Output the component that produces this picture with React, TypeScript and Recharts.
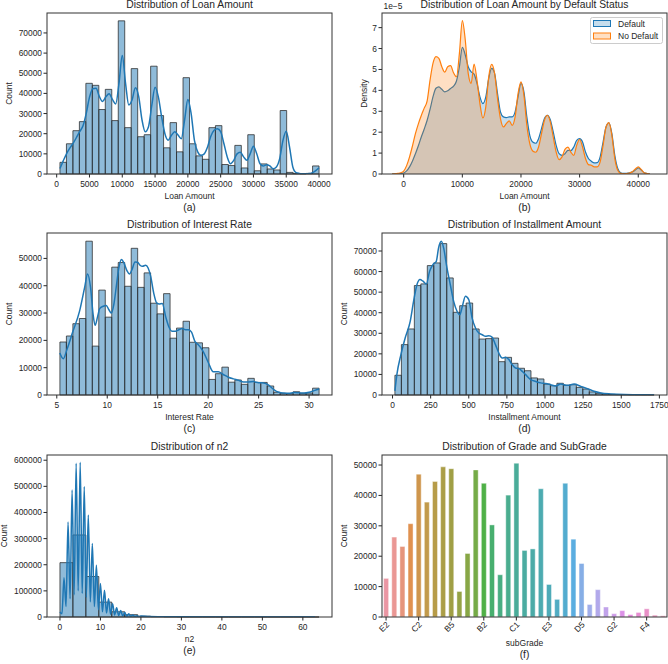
import React from 'react';
import { ComposedChart, BarChart, Bar, Line, Area, XAxis, YAxis, ReferenceArea, Cell } from 'recharts';

// ---------- data ----------

// (a) loan amount histogram, 40 bins
const loanBinStart = 500;
const loanBinWidth = 987.5;
const loanCounts = [
  5800, 15000, 21500, 26000, 45000, 44000, 32000, 42000, 26500, 76000,
  23000, 52300, 18500, 19500, 53500, 29000, 13000, 25500, 11000, 47800,
  15000, 9000, 7300, 23000, 24000, 4700, 4200, 14200, 3000, 19500,
  1600, 5000, 2500, 2000, 31500, 800, 200, 100, 300, 4000,
];
// kde sampled every 500 from 500
const loanKdeStart = 500;
const loanKdeStep = 500;
const loanKde = [
  2700, 6500, 10000, 12800, 15200, 18000, 21000, 23800, 30000, 38000,
  42300, 42500, 38500, 36000, 38300, 39800, 37000, 34800, 45000, 58800,
  45000, 34200, 36800, 42800, 38500, 27000, 21000, 23500, 34000, 43000,
  38300, 28400, 20000, 16800, 19200, 21000, 19300, 17500, 26700, 37000,
  30000, 16700, 11000, 9300, 10000, 13400, 18700, 21700, 22500, 21000,
  15000, 8500, 5100, 6800, 10000, 10800, 8500, 6800, 10000, 13800,
  10000, 5100, 4000, 4600, 4000, 2600, 3500, 7600, 16700, 21200,
  13400, 3500, 700, 300, 150, 100, 200, 700, 1700, 3100,
];
const loanTicks = [0, 5000, 10000, 15000, 20000, 25000, 30000, 35000, 40000];
const countTicks70k = [0, 10000, 20000, 30000, 40000, 50000, 60000, 70000];

// (b) density by default status (units of 1e-5), sampled every 500 from -2000
const densityStart = -2000;
const densityStep = 500;
const defaultDensity = [
  0, 0.005, 0.01, 0.02, 0.05, 0.15, 0.34, 0.62, 0.97, 1.35,
  1.77, 2.15, 2.57, 3.1, 3.7, 4.1, 4.17, 4.05, 3.93, 3.98,
  4.09, 4.2, 4.45, 5.13, 6.06, 5.69, 5.13, 4.89, 4.78, 4.33,
  3.69, 3.37, 3.69, 4.57, 5.05, 4.81, 3.85, 2.97, 2.73, 2.7,
  2.73, 2.73, 2.97, 3.69, 4.33, 3.93, 2.73, 1.85, 1.53, 1.47,
  1.69, 2.17, 2.65, 2.81, 2.6, 2.01, 1.37, 0.97, 0.89, 0.97,
  1.13, 1.12, 1.29, 1.61, 1.69, 1.53, 1.05, 0.74, 0.61, 0.53,
  0.54, 0.82, 1.53, 2.25, 2.45, 1.93, 0.89, 0.26, 0.06, 0.03,
  0.03, 0.05, 0.1, 0.19, 0.29, 0.19, 0.06, 0.02, 0,
];
const noDefaultDensity = [
  0, 0.01, 0.03, 0.06, 0.14, 0.4, 0.82, 1.35, 1.93, 2.4,
  2.8, 3.15, 3.5, 4.5, 5.3, 5.61, 5.53, 5.13, 4.87, 5.13,
  5.18, 4.84, 4.65, 5.77, 7.34, 6.41, 4.81, 4.33, 5.26, 4.49,
  3.37, 2.68, 3.21, 4.65, 5.24, 4.81, 3.61, 2.65, 2.25, 2.41,
  2.54, 2.33, 2.73, 3.85, 4.41, 3.77, 2.33, 1.45, 1.1, 1.04,
  1.29, 1.93, 2.57, 2.81, 2.49, 1.77, 1.05, 0.69, 0.82, 1.18,
  1.29, 1.05, 0.89, 1.37, 1.65, 1.29, 0.74, 0.45, 0.42, 0.34,
  0.34, 0.58, 1.37, 2.25, 2.46, 1.85, 0.74, 0.18, 0.03, 0.01,
  0.02, 0.05, 0.11, 0.24, 0.34, 0.22, 0.06, 0.02, 0,
];
const densityXTicks = [0, 10000, 20000, 30000, 40000];
const densityYTicks = [0, 1, 2, 3, 4, 5, 6, 7];

// (c) interest rate
const rateBinStart = 5.31;
const rateBinWidth = 0.642;
const rateCounts = [
  19400, 21600, 26100, 28000, 56300, 17900, 38400, 28500, 46800, 48500,
  39800, 53700, 39400, 44700, 33600, 29700, 37100, 20800, 24500, 27000,
  19300, 19100, 17300, 5700, 7800, 10200, 4700, 5500, 3900, 6100,
  4600, 4600, 3300, 1000, 600, 500, 1200, 600, 700, 2500,
];
const rateKdeX = [
  5.3, 5.65, 6.0, 6.6, 7.25, 7.75, 8.05, 8.35, 8.6, 8.8,
  9.05, 9.25, 9.6, 9.9, 10.15, 10.4, 10.65, 10.9, 11.15, 11.4,
  11.65, 11.95, 12.2, 12.45, 12.75, 13.0, 13.25, 13.5, 13.8, 14.05,
  14.3, 14.6, 14.9, 15.15, 15.45, 15.8, 16.1, 16.45, 16.75, 17.1,
  17.4, 17.75, 18.05, 18.35, 18.7, 19.0, 19.5, 20.0, 20.5, 21.0,
  21.5, 22.0, 22.5, 23.0, 23.5, 24.0, 24.5, 25.0, 25.5, 26.0,
  26.5, 27.0, 27.5, 28.0, 28.5, 29.0, 29.5, 30.0, 30.5, 31.0,
];
const rateKdeY = [
  15400, 13300, 16600, 23300, 30600, 39200, 44300, 39200, 29400, 25500,
  28800, 31600, 32500, 32800, 31300, 30000, 33100, 39800, 46500, 49600,
  48400, 45500, 44300, 45900, 48700, 48600, 47500, 47100, 47500, 46500,
  43500, 37400, 33700, 33300, 33500, 28500, 25000, 23300, 23300, 23900,
  24300, 23900, 23900, 23000, 19500, 18500, 16000, 12000, 8500, 8500,
  7500, 6500, 5900, 5400, 4800, 4800, 4900, 4500, 4400, 3600,
  2000, 1000, 700, 600, 900, 800, 700, 1000, 1600, 2200,
];
const rateXTicks = [5, 10, 15, 20, 25, 30];
const countTicks50k = [0, 10000, 20000, 30000, 40000, 50000];

// (d) installment amount
const installBinStart = 15.69;
const installBinWidth = 42.49;
const installCounts = [
  9600, 24500, 32100, 53200, 54000, 62900, 64200, 73600, 56900, 40200,
  43400, 44700, 32100, 27200, 27400, 27700, 16200, 18300, 15400, 13000,
  11800, 8300, 7800, 5300, 4500, 5700, 4700, 5000, 3700, 2900,
  1500, 800, 500, 300, 200, 150, 100, 80, 60, 50,
];
const installKdeX = [
  15.7, 28.5, 55, 83, 116, 138, 160, 180, 200, 222,
  243, 265, 287, 302, 320, 335, 357, 379, 401, 423,
  441, 458, 478, 500, 522, 544, 566, 588, 610, 632,
  654, 675, 697, 719, 741, 763, 785, 807, 829, 851,
  873, 906, 939, 972, 1005, 1037, 1070, 1103, 1147, 1191,
  1235, 1278, 1322, 1366, 1432, 1520, 1629, 1715,
];
const installKdeY = [
  2000, 9900, 19600, 27700, 35800, 45500, 53600, 56100, 55300, 54000,
  60100, 63400, 65000, 71500, 74700, 71500, 61800, 53600, 45500, 40700,
  39000, 43100, 48000, 46400, 37400, 32600, 30100, 29300, 28500, 28800,
  28000, 24500, 20400, 18000, 18300, 17200, 14700, 13100, 12800, 11500,
  9900, 7500, 6600, 5900, 5600, 5000, 4400, 5300, 4700, 5300,
  4200, 3100, 1800, 1000, 500, 200, 100, 50,
];
const installXTicks = [0, 250, 500, 750, 1000, 1250, 1500, 1750];

// (e) n2
const n2BinStart = 0;
const n2BinWidth = 3.2;
const n2Counts = [
  208000, 314000, 155000, 57000, 20000, 9000, 3000, 1500, 700, 300,
  150, 80, 50, 30, 20, 10, 8, 5, 3, 2,
];
const n2KdeX = [
  0, 0.5, 1, 1.5, 2, 2.5, 3, 3.5, 4, 4.5,
  5, 5.5, 6, 6.5, 7, 7.5, 8, 8.5, 9, 9.5,
  10, 10.5, 11, 11.5, 12, 12.5, 13, 13.5, 14, 14.5,
  15, 15.5, 16, 16.5, 17, 17.5, 18, 18.5, 19, 19.5,
  20, 22, 25, 30, 40, 50, 63,
];
const n2KdeY = [
  19000, 12000, 150000, 40000, 364000, 70000, 486000, 85000, 588000, 100000,
  592000, 90000, 499000, 75000, 390000, 58000, 281000, 40000, 198000, 28000,
  128000, 20000, 102000, 15000, 70000, 11000, 51000, 8000, 35000, 6000,
  25000, 4000, 17000, 3000, 12000, 2000, 8000, 1500, 5000, 1000,
  4000, 2000, 1200, 600, 200, 100, 50,
];
const n2XTicks = [0, 10, 20, 30, 40, 50, 60];
const n2YTicks = [0, 100000, 200000, 300000, 400000, 500000, 600000];

// (f) sub grades, in order of appearance
const subGrades = [
  'E2', 'D2', 'D3', 'A4', 'C2', 'A5', 'C3', 'B4', 'B5', 'E5',
  'D4', 'B3', 'B2', 'D1', 'E1', 'C5', 'C1', 'A2', 'B1', 'A3',
  'E3', 'F1', 'C4', 'A1', 'D5', 'F2', 'E4', 'F3', 'G2', 'F5',
  'G3', 'G1', 'F4', 'G4', 'G5',
];
const subGradeCounts = [
  12700, 26300, 23200, 30700, 47000, 37800, 44600, 49400, 48800, 8400,
  20900, 48400, 44000, 30300, 13900, 40100, 50600, 21900, 22400, 42200,
  10700, 5800, 44000, 25600, 17600, 4100, 9000, 3300, 1100, 2100,
  800, 1500, 2700, 600, 400,
];

// ---------- styling ----------

const FONT = '"Liberation Sans", Arial, Helvetica, sans-serif';
const INK = '#262626';
const BLUE = '#1f77b4';
const ORANGE = '#ff7f0e';
const AXIS_W = 47;
const TICK = { fontSize: 8.4, fill: INK };

type Box = { left: number; top: number; right: number; bottom: number };
const boxA: Box = { left: 47, top: 13, right: 332, bottom: 174 };
const boxB: Box = { left: 382, top: 13, right: 667, bottom: 174 };
const boxC: Box = { left: 47, top: 233, right: 332, bottom: 395 };
const boxD: Box = { left: 382, top: 233, right: 667, bottom: 395 };
const boxE: Box = { left: 47, top: 455, right: 332, bottom: 617 };
const boxF: Box = { left: 382, top: 455, right: 667, bottom: 617 };

// seaborn husl palette (l=.7) desaturated to .75, as countplot does
const HM = [
  [3.2406, -1.5372, -0.4986],
  [-0.9689, 1.8758, 0.0415],
  [0.0557, -0.204, 1.057],
];
function maxChroma(L: number, H: number) {
  const hr = (H * Math.PI) / 180;
  const sinH = Math.sin(hr);
  const cosH = Math.cos(hr);
  const sub1 = Math.pow(L + 16, 3) / 1560896;
  const sub2 = sub1 > 0.008856 ? sub1 : L / 903.3;
  let res = Infinity;
  for (const [m1, m2, m3] of HM) {
    const top = (0.99915 * m1 + 1.05122 * m2 + 1.1446 * m3) * sub2;
    const rb = 0.8633 * m3 - 0.17266 * m2;
    const lb = 0.12949 * m3 - 0.38848 * m1;
    const bottom = (rb * sinH + lb * cosH) * sub2;
    for (const t of [0, 1]) {
      const c = (L * (top - 1.05122 * t)) / (bottom + 0.17266 * sinH * t);
      if (c > 0 && c < res) res = c;
    }
  }
  return res;
}
function huslToRgb(H: number, S: number, L: number) {
  const C = (maxChroma(L, H) / 100) * S;
  const hr = (H * Math.PI) / 180;
  const U = Math.cos(hr) * C;
  const V = Math.sin(hr) * C;
  const t = (L + 16) / 116;
  const Y = t * t * t > 0.008856 ? t * t * t : L / 903.3;
  const vu = U / (13 * L) + 0.19784;
  const vv = V / (13 * L) + 0.46834;
  const X = -(9 * Y * vu) / ((vu - 4) * vv - vu * vv);
  const Z = (9 * Y - 15 * vv * Y - vv * X) / (3 * vv);
  return HM.map(([a, b, c]) => {
    const lin = a * X + b * Y + c * Z;
    const v = lin <= 0.0031308 ? 12.92 * lin : 1.055 * Math.pow(lin, 1 / 2.4) - 0.055;
    return Math.min(1, Math.max(0, v));
  });
}
function desaturate(rgb: number[], prop: number) {
  const [r, g, b] = rgb;
  const mx = Math.max(r, g, b);
  const mn = Math.min(r, g, b);
  const l = (mx + mn) / 2;
  if (mx === mn) return rgb;
  const d = mx - mn;
  const s = (l <= 0.5 ? d / (mx + mn) : d / (2 - mx - mn)) * prop;
  const rc = (mx - r) / d;
  const gc = (mx - g) / d;
  const bc = (mx - b) / d;
  let h = r === mx ? bc - gc : g === mx ? 2 + rc - bc : 4 + gc - rc;
  h = (((h / 6) % 1) + 1) % 1;
  const m2 = l <= 0.5 ? l * (1 + s) : l + s - l * s;
  const m1 = 2 * l - m2;
  const ch = (hh: number) => {
    hh = ((hh % 1) + 1) % 1;
    if (hh < 1 / 6) return m1 + (m2 - m1) * hh * 6;
    if (hh < 0.5) return m2;
    if (hh < 2 / 3) return m1 + (m2 - m1) * (2 / 3 - hh) * 6;
    return m1;
  };
  return [ch(h + 1 / 3), ch(h), ch(h - 1 / 3)];
}
const toHex = (rgb: number[]) =>
  '#' + rgb.map((v) => Math.round(v * 255).toString(16).padStart(2, '0')).join('');
const gradeColors = subGrades.map((_, i) => {
  const hue = ((i / subGrades.length + 0.01) % 1) * 359;
  return toHex(desaturate(huslToRgb(hue, 0.9 * 99, 0.7 * 99), 0.75));
});

// ---------- charts ----------

function frameOf(box: Box, xAxisH: number) {
  return {
    style: { position: 'absolute' as const, left: box.left - AXIS_W, top: box.top - 4 },
    width: box.right - box.left + AXIS_W + 1,
    height: box.bottom - box.top + 4 + xAxisH,
    margin: { top: 4, right: 1, bottom: 0, left: 0 },
  };
}

type HistProps = {
  box: Box;
  binStart: number;
  binWidth: number;
  counts: number[];
  kde: { x: number; y: number }[];
  xDomain: [number, number];
  xTicks: number[];
  yDomain: [number, number];
  yTicks: number[];
};

function Histogram({ box, binStart, binWidth, counts, kde, xDomain, xTicks, yDomain, yTicks }: HistProps) {
  const f = frameOf(box, 16);
  return (
    <div style={f.style}>
      <ComposedChart width={f.width} height={f.height} margin={f.margin} data={kde}>
        <XAxis
          type="number"
          dataKey="x"
          domain={xDomain}
          ticks={xTicks}
          interval={0}
          allowDataOverflow
          height={16}
          axisLine={false}
          tickSize={3.5}
          tickMargin={3.5}
          tickLine={{ stroke: INK }}
          tick={TICK}
        />
        <YAxis
          type="number"
          domain={yDomain}
          ticks={yTicks}
          interval={0}
          allowDataOverflow
          width={AXIS_W}
          axisLine={false}
          tickSize={3.5}
          tickMargin={1.5}
          tickLine={{ stroke: INK }}
          tick={TICK}
        />
        {counts.map((c, i) => (
          <ReferenceArea
            key={i}
            x1={binStart + i * binWidth}
            x2={binStart + (i + 1) * binWidth}
            y1={0}
            y2={c}
            fill={BLUE}
            fillOpacity={0.5}
            stroke="#2a2a2a"
            strokeOpacity={0.85}
            strokeWidth={0.9}
          />
        ))}
        <Line
          dataKey="y"
          type="monotone"
          stroke={BLUE}
          strokeWidth={1.5}
          dot={false}
          activeDot={false}
          isAnimationActive={false}
        />
      </ComposedChart>
    </div>
  );
}

function DensityChart() {
  const f = frameOf(boxB, 16);
  const rows = defaultDensity.map((d, i) => ({
    x: densityStart + i * densityStep,
    def: d,
    nodef: noDefaultDensity[i],
  }));
  return (
    <div style={f.style}>
      <ComposedChart width={f.width} height={f.height} margin={f.margin} data={rows}>
        <XAxis
          type="number"
          dataKey="x"
          domain={[-3700, 44900]}
          ticks={densityXTicks}
          interval={0}
          allowDataOverflow
          height={16}
          axisLine={false}
          tickSize={3.5}
          tickMargin={3.5}
          tickLine={{ stroke: INK }}
          tick={TICK}
        />
        <YAxis
          type="number"
          domain={[0, 7.7]}
          ticks={densityYTicks}
          interval={0}
          allowDataOverflow
          width={AXIS_W}
          axisLine={false}
          tickSize={3.5}
          tickMargin={1.5}
          tickLine={{ stroke: INK }}
          tick={TICK}
        />
        <Area
          dataKey="def"
          name="Default"
          type="monotone"
          stroke={BLUE}
          strokeWidth={1.2}
          fill={BLUE}
          fillOpacity={0.25}
          isAnimationActive={false}
          activeDot={false}
        />
        <Area
          dataKey="nodef"
          name="No Default"
          type="monotone"
          stroke={ORANGE}
          strokeWidth={1.2}
          fill={ORANGE}
          fillOpacity={0.25}
          isAnimationActive={false}
          activeDot={false}
        />
      </ComposedChart>
    </div>
  );
}

function GradeTick(props: any) {
  const { x, y, payload } = props;
  return (
    <text
      transform={`translate(${x - 0.5},${y}) rotate(-45)`}
      textAnchor="end"
      dy="0.71em"
      fontSize={8.4}
      fill={INK}
    >
      {payload.value}
    </text>
  );
}

function GradeChart() {
  const f = frameOf(boxF, 26);
  const rows = subGrades.map((g, i) => ({ grade: g, count: subGradeCounts[i] }));
  return (
    <div style={f.style}>
      <BarChart width={f.width} height={f.height} margin={f.margin} data={rows} barCategoryGap="20%">
        <XAxis
          dataKey="grade"
          interval={3}
          height={26}
          axisLine={false}
          tickSize={3.5}
          tickMargin={0.5}
          tickLine={{ stroke: INK }}
          tick={<GradeTick />}
        />
        <YAxis
          type="number"
          domain={[0, 53300]}
          ticks={countTicks50k}
          interval={0}
          allowDataOverflow
          width={AXIS_W}
          axisLine={false}
          tickSize={3.5}
          tickMargin={1.5}
          tickLine={{ stroke: INK }}
          tick={TICK}
        />
        <Bar dataKey="count" stroke="#ffffff" strokeOpacity={0.7} strokeWidth={0.6} isAnimationActive={false}>
          {rows.map((r, i) => (
            <Cell key={r.grade} fill={gradeColors[i]} />
          ))}
        </Bar>
      </BarChart>
    </div>
  );
}

// titles, axis labels, captions and frames
type Texts = { box: Box; title: string; xLabel: string; caption: string; yLabel: string; yLabelX: number; xLabelDy?: number };
const panelTexts: Texts[] = [
  { box: boxA, title: 'Distribution of Loan Amount', xLabel: 'Loan Amount', caption: '(a)', yLabel: 'Count', yLabelX: 12 },
  { box: boxB, title: 'Distribution of Loan Amount by Default Status', xLabel: 'Loan Amount', caption: '(b)', yLabel: 'Density', yLabelX: 366.8 },
  { box: boxC, title: 'Distribution of Interest Rate', xLabel: 'Interest Rate', caption: '(c)', yLabel: 'Count', yLabelX: 12 },
  { box: boxD, title: 'Distribution of Installment Amount', xLabel: 'Installment Amount', caption: '(d)', yLabel: 'Count', yLabelX: 347 },
  { box: boxE, title: 'Distribution of n2', xLabel: 'n2', caption: '(e)', yLabel: 'Count', yLabelX: 6.8 },
  { box: boxF, title: 'Distribution of Grade and SubGrade', xLabel: 'subGrade', caption: '(f)', yLabel: 'Count', yLabelX: 347, xLabelDy: 4 },
];

function Overlay() {
  return (
    <svg
      width={668}
      height={664}
      style={{ position: 'absolute', left: 0, top: 0, pointerEvents: 'none' }}
      fontFamily={FONT}
      fill={INK}
    >
      {panelTexts.map((p) => {
        const cx = (p.box.left + p.box.right) / 2;
        const cy = (p.box.top + p.box.bottom) / 2;
        return (
          <g key={p.caption}>
            <rect
              x={p.box.left}
              y={p.box.top}
              width={p.box.right - p.box.left}
              height={p.box.bottom - p.box.top}
              fill="none"
              stroke="#333333"
              strokeWidth={1}
            />
            <text x={cx} y={p.box.top - 5.2} textAnchor="middle" fontSize={10.3}>
              {p.title}
            </text>
            <text x={cx} y={p.box.bottom + 25 + (p.xLabelDy ?? 0)} textAnchor="middle" fontSize={8.5}>
              {p.xLabel}
            </text>
            <text x={cx} y={p.box.bottom + 36.5 + (p.xLabelDy ?? 0)} textAnchor="middle" fontSize={10.3}>
              {p.caption}
            </text>
            <text
              transform={`translate(${p.yLabelX},${cy}) rotate(-90)`}
              textAnchor="middle"
              fontSize={8.5}
            >
              {p.yLabel}
            </text>
          </g>
        );
      })}
      <text x={383.5} y={8.8} fontSize={8.4}>
        1e−5
      </text>
      <rect x={590.5} y={17.5} width={72} height={26} rx={2} fill="#ffffff" fillOpacity={0.8} stroke="#cccccc" />
      <rect x={593.5} y={20.5} width={17} height={6} fill={BLUE} fillOpacity={0.25} stroke={BLUE} />
      <text x={618} y={26.6} fontSize={8.5}>
        Default
      </text>
      <rect x={593.5} y={33} width={17} height={6} fill={ORANGE} fillOpacity={0.25} stroke={ORANGE} />
      <text x={618} y={39.1} fontSize={8.5}>
        No Default
      </text>
    </svg>
  );
}

export default function App() {
  const loanRows = loanKde.map((y, i) => ({ x: loanKdeStart + i * loanKdeStep, y }));
  const rateRows = rateKdeX.map((x, i) => ({ x, y: rateKdeY[i] }));
  const installRows = installKdeX.map((x, i) => ({ x, y: installKdeY[i] }));
  const n2Rows = n2KdeX.map((x, i) => ({ x, y: n2KdeY[i] }));

  return (
    <div
      style={{
        position: 'absolute',
        left: 0,
        top: 0,
        width: 668,
        height: 664,
        overflow: 'hidden',
        background: '#ffffff',
        fontFamily: FONT,
      }}
    >
      <Histogram
        box={boxA}
        binStart={loanBinStart}
        binWidth={loanBinWidth}
        counts={loanCounts}
        kde={loanRows}
        xDomain={[-1475, 41975]}
        xTicks={loanTicks}
        yDomain={[0, 79900]}
        yTicks={countTicks70k}
      />
      <DensityChart />
      <Histogram
        box={boxC}
        binStart={rateBinStart}
        binWidth={rateBinWidth}
        counts={rateCounts}
        kde={rateRows}
        xDomain={[4.03, 32.27]}
        xTicks={rateXTicks}
        yDomain={[0, 59300]}
        yTicks={countTicks50k}
      />
      <Histogram
        box={boxD}
        binStart={installBinStart}
        binWidth={installBinWidth}
        counts={installCounts}
        kde={installRows}
        xDomain={[-69, 1800]}
        xTicks={installXTicks}
        yDomain={[0, 78750]}
        yTicks={countTicks70k}
      />
      <Histogram
        box={boxE}
        binStart={n2BinStart}
        binWidth={n2BinWidth}
        counts={n2Counts}
        kde={n2Rows}
        xDomain={[-3.2, 67.2]}
        xTicks={n2XTicks}
        yDomain={[0, 620000]}
        yTicks={n2YTicks}
      />
      <GradeChart />
      <Overlay />
    </div>
  );
}
